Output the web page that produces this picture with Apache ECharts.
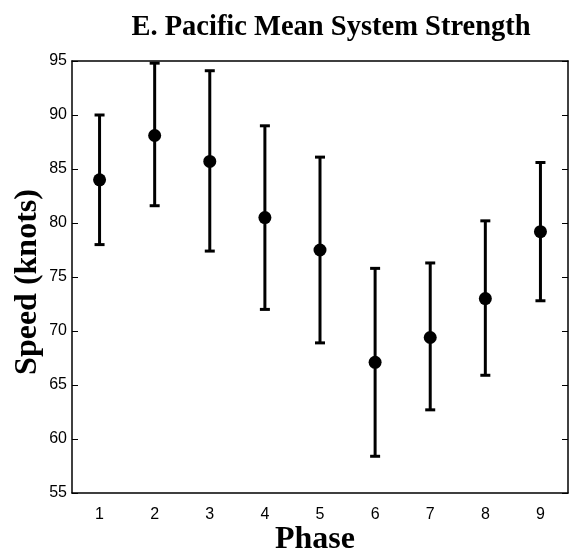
<!DOCTYPE html>
<html>
<head>
<meta charset="utf-8">
<script src="https://cdn.jsdelivr.net/npm/echarts@6/dist/echarts.min.js"></script>
<style>
  html, body { margin: 0; padding: 0; background: #fff; }
  #chart { width: 570px; height: 550px; }
</style>
</head>
<body>
<div id="chart"></div>
<script>
// phases on the x axis
var phases = ['1', '2', '3', '4', '5', '6', '7', '8', '9'];
// mean system strength (knots)
var means = [84.0, 88.1, 85.7, 80.5, 77.5, 67.1, 69.4, 73.0, 79.2];
// top and bottom of each error bar
var upper = [90.0, 94.8, 94.1, 89.0, 86.1, 75.8, 76.3, 80.2, 85.6];
var lower = [78.0, 81.6, 77.4, 72.0, 68.9, 58.4, 62.7, 65.9, 72.8];
var yTicks = [55, 60, 65, 70, 75, 80, 85, 90, 95];

var bars = phases.map(function (p, i) { return [i, lower[i], upper[i]]; });

var chart = echarts.init(document.getElementById('chart'));
var serif = '"Liberation Serif", "Times New Roman", serif';
var sans = '"Liberation Sans", Arial, sans-serif';

chart.setOption({
  animation: false,
  title: {
    text: 'E. Pacific Mean System Strength',
    left: 326,
    textAlign: 'center',
    top: 8,
    textStyle: { fontFamily: serif, fontWeight: 'bold', fontSize: 28.5, color: '#000' }
  },
  grid: { left: 72, right: 2, top: 61, bottom: 57, outerBoundsMode: 'none' },
  xAxis: [{
    type: 'category',
    data: phases,
    boundaryGap: true,
    name: 'Phase',
    nameLocation: 'middle',
    nameGap: 31,
    nameMoveOverlap: false,
    nameTextStyle: { fontFamily: serif, fontWeight: 'bold', fontSize: 32, color: '#000', padding: [0, 10, 0, 0] },
    axisLine: { lineStyle: { color: '#000', width: 1.5 } },
    axisTick: { inside: true, alignWithLabel: true, length: 6, lineStyle: { color: '#000' } },
    axisLabel: { fontFamily: sans, fontSize: 16, color: '#000', margin: 14 },
    splitLine: { show: false }
  }, {
    type: 'category',
    data: phases,
    position: 'top',
    boundaryGap: true,
    axisLine: { lineStyle: { color: '#000', width: 1.5 } },
    axisTick: { inside: true, alignWithLabel: true, length: 6, lineStyle: { color: '#000' } },
    axisLabel: { show: false },
    splitLine: { show: false }
  }],
  yAxis: [{
    type: 'value',
    min: 55,
    max: 95,
    interval: 5,
    name: 'Speed (knots)',
    nameLocation: 'middle',
    nameGap: 28,
    nameMoveOverlap: false,
    nameTextStyle: { fontFamily: serif, fontWeight: 'bold', fontSize: 32, color: '#000', padding: [0, 10, 0, 0] },
    axisLine: { show: true, lineStyle: { color: '#000', width: 1.5 } },
    axisTick: { show: true, inside: true, length: 6, lineStyle: { color: '#000' } },
    axisLabel: {
      fontFamily: sans, fontSize: 16, color: '#000', margin: 5,
      formatter: function (v) { return yTicks.indexOf(v) >= 0 ? String(v) : ''; }
    },
    splitLine: { show: false }
  }, {
    type: 'value',
    min: 55,
    max: 95,
    interval: 5,
    position: 'right',
    axisLine: { show: true, lineStyle: { color: '#000', width: 1.5 } },
    axisTick: { show: true, inside: true, length: 6, lineStyle: { color: '#000' } },
    axisLabel: { show: false },
    splitLine: { show: false }
  }],
  series: [{
    type: 'custom',
    data: bars,
    renderItem: function (params, api) {
      var top = api.coord([api.value(0), api.value(2)]);
      var bot = api.coord([api.value(0), api.value(1)]);
      var half = 5;
      var st = { stroke: '#000', lineWidth: 3 };
      return {
        type: 'group',
        children: [
          { type: 'line', shape: { x1: top[0], y1: top[1], x2: bot[0], y2: bot[1] }, style: st },
          { type: 'line', shape: { x1: top[0] - half, y1: top[1], x2: top[0] + half, y2: top[1] }, style: st },
          { type: 'line', shape: { x1: bot[0] - half, y1: bot[1], x2: bot[0] + half, y2: bot[1] }, style: st }
        ]
      };
    },
    z: 2
  }, {
    type: 'scatter',
    data: means,
    symbol: 'circle',
    symbolSize: 13,
    itemStyle: { color: '#000', opacity: 1 },
    z: 3
  }]
});
</script>
</body>
</html>
